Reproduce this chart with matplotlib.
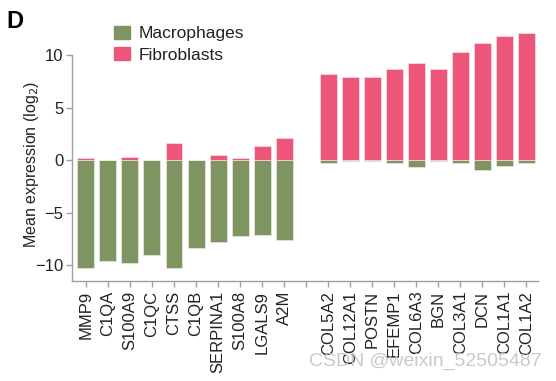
import matplotlib
matplotlib.use("Agg")
import matplotlib.pyplot as plt
from matplotlib.patches import Patch
import numpy as np

plt.rcParams['font.family'] = ['Liberation Sans', 'DejaVu Sans']

genes_mac = ['MMP9', 'C1QA', 'S100A9', 'C1QC', 'CTSS', 'C1QB', 'SERPINA1', 'S100A8', 'LGALS9', 'A2M']
genes_fib = ['COL5A2', 'COL12A1', 'POSTN', 'EFEMP1', 'COL6A3', 'BGN', 'COL3A1', 'DCN', 'COL1A1', 'COL1A2']

# mean expression (log2) for macrophage marker genes
mac_in_mac = [-10.3, -9.6, -9.8, -9.0, -10.3, -8.35, -7.8, -7.25, -7.1, -7.6]
fib_in_mac = [0.2, 0.05, 0.3, 0.03, 1.65, 0.05, 0.45, 0.22, 1.35, 2.15]
# mean expression (log2) for fibroblast marker genes
mac_in_fib = [-0.3, -0.1, -0.1, -0.25, -0.65, -0.1, -0.3, -0.9, -0.6, -0.3]
fib_in_fib = [8.15, 7.9, 7.95, 8.65, 9.25, 8.7, 10.3, 11.1, 11.85, 12.1]

green = '#7e9461'
pink = '#ee5679'

labels = genes_mac + [''] + genes_fib
mac_vals = mac_in_mac + [np.nan] + mac_in_fib
fib_vals = fib_in_mac + [np.nan] + fib_in_fib
x = np.arange(len(labels))

fig = plt.figure(figsize=(5.56, 3.81), dpi=100)
ax = fig.add_axes([0.1295, 0.2625, 0.838, 0.662])

ax.bar(x, mac_vals, width=0.77, color=green, edgecolor='#f4f4f0', linewidth=0.4)
ax.bar(x, fib_vals, width=0.77, color=pink, edgecolor='#f4f4f0', linewidth=0.4)

ax.set_xlim(-0.63, 20.52)
ax.set_ylim(-11.5, 12.5)
ax.set_yticks([-10, -5, 0, 5, 10])
ax.set_yticklabels(['\u221210', '\u22125', '0', '5', '10'])
ax.set_xticks(x)
ax.set_xticklabels(labels, rotation=90, fontsize=12, color='#222222')

for s in ['top', 'right']:
    ax.spines[s].set_visible(False)
for s in ['left', 'bottom']:
    ax.spines[s].set_color('#a0a0a0')
    ax.spines[s].set_linewidth(1.0)
ax.spines['left'].set_bounds(-11.5, 10)
ax.tick_params(axis='both', colors='#a0a0a0', length=4, width=1.0)
ax.tick_params(axis='y', labelsize=12, labelcolor='#222222', pad=2)
ax.tick_params(axis='x', labelcolor='#222222', pad=3)
ax.set_ylabel('Mean expression (log$_2$)', fontsize=11.5, color='#222222')
ax.yaxis.set_label_coords(-0.066, 0.46)

handles = [Patch(color=green, label='Macrophages'), Patch(color=pink, label='Fibroblasts')]
fig.legend(handles=handles, loc='upper left', bbox_to_anchor=(0.19, 0.955), frameon=False,
           fontsize=12.5, handlelength=0.9, handleheight=0.75, handletextpad=0.5,
           labelspacing=0.35, borderpad=0, labelcolor='#222222')

fig.text(0.012, 0.975, 'D', fontsize=17, fontweight='bold', va='top', ha='left')
fig.text(0.975, 0.028, 'CSDN @weixin_52505487', fontsize=14, color='#c4c4c4', ha='right', va='bottom', alpha=0.9)

fig.savefig('out.png', dpi=100)
